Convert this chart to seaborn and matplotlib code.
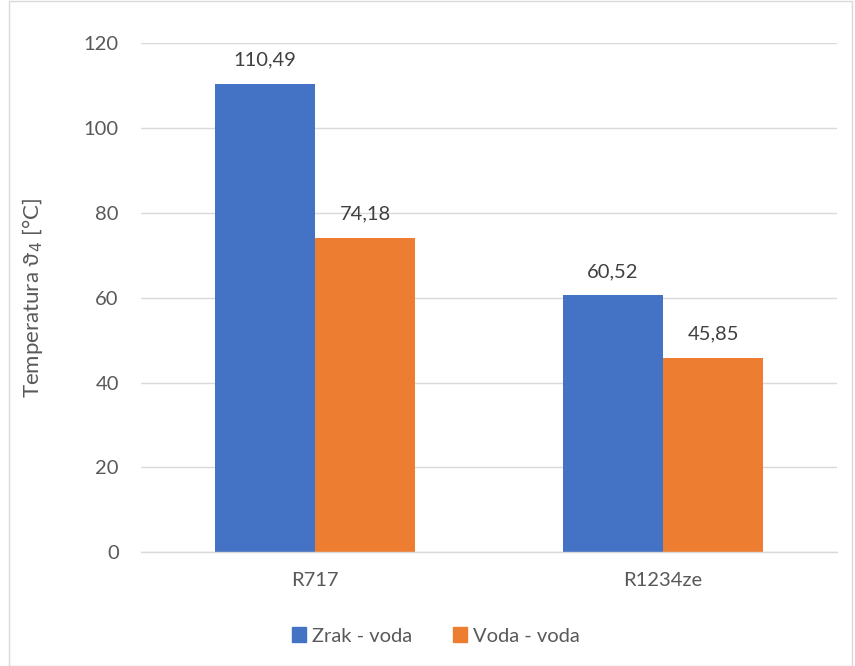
import pandas as pd
import seaborn as sns
import matplotlib.pyplot as plt
from matplotlib.patches import Patch, Rectangle

refrigerants = ["R717", "R1234ze"]
series_names = ["Zrak - voda", "Voda - voda"]
zrak_voda = [110.49, 60.52]
voda_voda = [74.18, 45.85]
colors = ["#4472C4", "#ED7D31"]

df = pd.DataFrame({
    "rashladni": refrigerants * 2,
    "serija": [series_names[0]] * 2 + [series_names[1]] * 2,
    "temp": zrak_voda + voda_voda,
})

sns.set_theme(style="white")
plt.rcParams["font.family"] = ["Lato", "DejaVu Sans"]
txt = "#595959"

fig = plt.figure(figsize=(8.55, 6.66), dpi=100)
ax = fig.add_axes([0.165, 0.171, 0.814, 0.764])

sns.barplot(data=df, x="rashladni", y="temp", hue="serija",
            order=refrigerants, hue_order=series_names,
            palette=colors, width=0.575, saturation=1,
            edgecolor="none", legend=False, ax=ax)

for cont in ax.containers:
    labels = [f"{b.get_height():.2f}".replace(".", ",") for b in cont]
    ax.bar_label(cont, labels=labels, padding=11, fontsize=14.5, color="#404040")

ax.set_ylim(0, 120)
ax.set_xlim(-0.5, 1.5)
ax.set_yticks(range(0, 121, 20))
ax.yaxis.grid(True, color="#D9D9D9", linewidth=1)
ax.set_axisbelow(True)
for s in ["top", "right", "left"]:
    ax.spines[s].set_visible(False)
ax.spines["bottom"].set_color("#D9D9D9")
ax.spines["bottom"].set_linewidth(1)
ax.tick_params(axis="y", length=0, labelsize=14.5, colors=txt, pad=16)
ax.tick_params(axis="x", length=0, labelsize=14.5, colors=txt, pad=14)
ax.set_xlabel("")
ax.set_ylabel("Temperatura ϑ$_4$ [°C]", fontsize=16, color=txt, labelpad=28)

handles = [Patch(color=c, label=n) for c, n in zip(colors, series_names)]
fig.legend(handles=handles, loc="center", bbox_to_anchor=(0.51, 0.045), ncol=2,
           frameon=False, fontsize=14.5, labelcolor=txt,
           handlelength=0.7, handleheight=0.7, handletextpad=0.3, columnspacing=2.0)

fig.patches.append(Rectangle((0.011, 0.0), 0.985, 0.998, transform=fig.transFigure,
                             fill=False, edgecolor="#D9D9D9", linewidth=1))

fig.savefig("out.png", dpi=100)
